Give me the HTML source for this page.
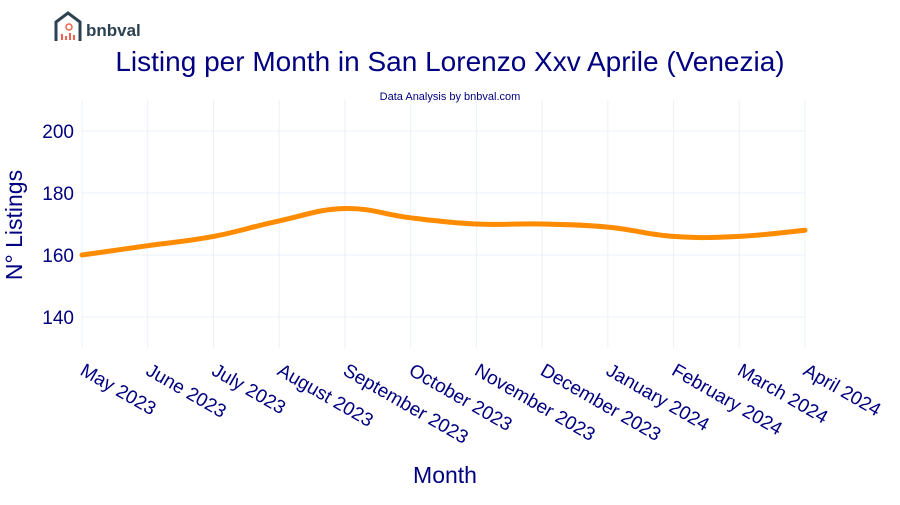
<!DOCTYPE html>
<html><head><meta charset="utf-8"><style>
body{margin:0;background:#fff;font-family:"Liberation Sans",Arial,sans-serif}
svg text{font-family:"Liberation Sans",Arial,sans-serif}
</style></head><body>
<svg id="c" width="900" height="500">
<g>
<path d="M56,41 V22 L68,13 L80,22 V41" fill="none" stroke="#2d4250" stroke-width="3"/>
<circle cx="69" cy="27" r="3" fill="none" stroke="#f0614f" stroke-width="1.5"/>
<rect x="61" y="34" width="2" height="6" fill="#f0614f"/><rect x="65" y="36" width="2" height="4" fill="#f0614f"/><rect x="69" y="33" width="2" height="7" fill="#f0614f"/><rect x="73" y="35" width="2" height="5" fill="#f0614f"/>
<text x="86" y="36" font-size="17" font-weight="bold" fill="#2d4250">bnbval</text>
</g>
<text x="450" y="71" font-size="28" fill="#000080" text-anchor="middle">Listing per Month in San Lorenzo Xxv Aprile (Venezia)</text>
<text x="450" y="100" font-size="11" fill="#000080" text-anchor="middle">Data Analysis by bnbval.com</text>
<text transform="translate(22,225) rotate(-90)" font-size="23" fill="#000080" text-anchor="middle">N° Listings</text>
<text x="445" y="483" font-size="23" fill="#000080" text-anchor="middle">Month</text>
<g id="grid"></g><g id="ticks"></g><g id="series"></g>
</svg>
<script>
const categories=["May 2023","June 2023","July 2023","August 2023","September 2023","October 2023","November 2023","December 2023","January 2024","February 2024","March 2024","April 2024"];
const listings=[160,163,166,171,175,172,170,170,169,166,166,168];
const yTicks=[140,160,180,200];
const NS="http://www.w3.org/2000/svg";
const x0=82,x1=805,yTop=100,yBot=348;
const xs=i=>x0+i*(x1-x0)/(categories.length-1);
const ys=v=>255-(v-160)*62/20;
const grid=document.getElementById('grid'),ticks=document.getElementById('ticks'),series=document.getElementById('series');
function mk(t,a){const e=document.createElementNS(NS,t);for(const k in a)e.setAttribute(k,a[k]);return e;}
yTicks.forEach(v=>{
 const l=mk('line',{x1:x0,x2:x1,y1:ys(v),y2:ys(v),stroke:'#ebf0f8','stroke-width':1});
 
 
 grid.appendChild(l);
 const t=mk('text',{x:x0-8,y:ys(v)+7,'font-size':19,fill:'#000080','text-anchor':'end'});
 t.textContent=v;
 
 
 ticks.appendChild(t);
});
categories.forEach((c,i)=>{
 const l=mk('line',{x1:xs(i),x2:xs(i),y1:yTop,y2:yBot,stroke:'#ebf0f8','stroke-width':1});
 
 
 grid.appendChild(l);
 const t=mk('text',{transform:`translate(${xs(i)-3},${374}) rotate(30)`,'font-size':19,fill:'#000080'});
 t.textContent=c;
 
 
 ticks.appendChild(t);
});
const P=listings.map((v,i)=>[xs(i),ys(v)]);
let d=`M${P[0][0]},${P[0][1]}`;const k=0.2;
for(let i=0;i<P.length-1;i++){
 const p0=P[Math.max(0,i-1)],p1=P[i],p2=P[i+1],p3=P[Math.min(P.length-1,i+2)];
 d+=` C${p1[0]+(p2[0]-p0[0])*k},${p1[1]+(p2[1]-p0[1])*k} ${p2[0]-(p3[0]-p1[0])*k},${p2[1]-(p3[1]-p1[1])*k} ${p2[0]},${p2[1]}`;
}
const path=mk('path',{d:d,fill:'none',stroke:'#ff8c00','stroke-width':5,'stroke-linecap':'round'});


series.appendChild(path);
</script>
</body></html>
